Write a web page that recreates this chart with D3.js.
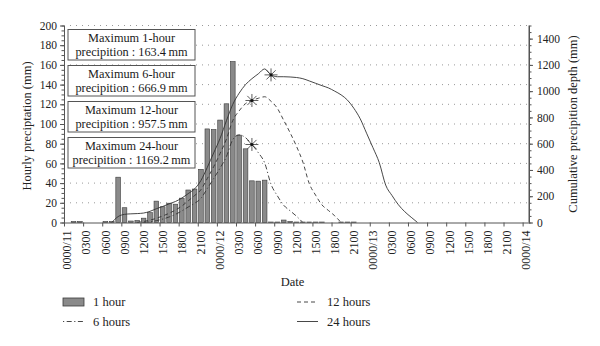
<!DOCTYPE html>
<html>
<head>
<meta charset="utf-8">
<script src="https://cdn.jsdelivr.net/npm/d3@7"></script>
<style>
  html, body { margin: 0; padding: 0; background: #fff; }
  svg { display: block; font-family: "Liberation Serif", "DejaVu Serif", serif; }
</style>
</head>
<body>
<svg id="chart" width="600" height="346"></svg>
<script>
// ---------------- DATA ----------------
const categories = [
  "0000/11","0100/11","0200/11","0300/11","0400/11","0500/11","0600/11","0700/11","0800/11","0900/11","1000/11","1100/11",
  "1200/11","1300/11","1400/11","1500/11","1600/11","1700/11","1800/11","1900/11","2000/11","2100/11","2200/11","2300/11",
  "0000/12","0100/12","0200/12","0300/12","0400/12","0500/12","0600/12","0700/12","0800/12","0900/12","1000/12","1100/12",
  "1200/12","1300/12","1400/12","1500/12","1600/12","1700/12","1800/12","1900/12","2000/12","2100/12","2200/12","2300/12",
  "0000/13","0100/13","0200/13","0300/13","0400/13","0500/13","0600/13","0700/13","0800/13","0900/13","1000/13","1100/13",
  "1200/13","1300/13","1400/13","1500/13","1600/13","1700/13","1800/13","1900/13","2000/13","2100/13","2200/13","2300/13",
  "0000/14"
];

const tickLabels = ["0000/11","0300","0600","0900","1200","1500","1800","2100",
  "0000/12","0300","0600","0900","1200","1500","1800","2100",
  "0000/13","0300","0600","0900","1200","1500","1800","2100","0000/14"];

// 1-hour precipitation (mm), left axis
const hourly = [
  0, 1, 1, 0, 0, 0, 1, 1, 46, 15, 1.5, 2,
  4.4, 10, 21.7, 16, 19.6, 18.6, 24.7, 33, 34, 54, 95, 94.4,
  104, 120.5, 163.4, 88.7, 74.8, 42.3, 42, 43, 0.5, 0.5, 2.5, 1,
  0.5, 0.5, 0.5, 0.5, 0.5, 0, 0, 0.5, 0.5, 0.5, 0, 0,
  0, 0, 0, 0, 0, 0, 0, 0, 0, 0, 0, 0,
  0, 0, 0, 0, 0, 0, 0, 0, 0, 0, 0, 0,
  0
];

// Cumulative depth (mm), right axis
const sixHours = [
  null, null, null, null, null, null, null, null, null, null, null, null,
  0, 5, 14, 26, 42, 62, 88, 118, 146, 184, 259, 335,
  414, 502, 631, 666.9, 646, 594, 532, 454, 291, 203, 131, 89,
  48, 0, null, null, null, null, null, null, null, null, null, null,
  null, null, null, null, null, null, null, null, null, null, null, null,
  null, null, null, null, null, null, null, null, null, null, null, null,
  null
];
const twelveHours = [
  null, null, null, null, null, null, null, null, null, null, null, 0,
  8, 18, 32, 50, 70, 95, 125, 165, 205, 250, 335, 425,
  525, 635, 777, 850, 905, 929, 946, 957.5, 923, 869, 777, 683,
  580, 460, 297, 208, 134, 92, 51, 0, null, null, null, null,
  null, null, null, null, null, null, null, null, null, null, null, null,
  null, null, null, null, null, null, null, null, null, null, null, null,
  null
];
const twentyFourHours = [
  null, null, null, null, null, null, null, 0, 45, 62, 66, 68,
  72, 85, 105, 122, 142, 160, 186, 220, 256, 320, 420, 530,
  640, 775, 900, 985, 1050, 1095, 1132, 1169.2, 1124, 1110, 1110, 1108,
  1104, 1095, 1078, 1060, 1042, 1025, 1000, 972, 932, 870, 790, 680,
  570, 455, 285, 205, 135, 82, 40, 0, null, null, null, null,
  null, null, null, null, null, null, null, null, null, null, null, null,
  null
];

// category index carrying the asterisk marker of each line
const markerIndex = { six: 29, twelve: 29, twentyFour: 32 };

const boxLines = [
  ["Maximum 1-hour", "precipition : 163.4\u2009mm"],
  ["Maximum 6-hour", "precipition : 666.9\u2009mm"],
  ["Maximum 12-hour", "precipition : 957.5\u2009mm"],
  ["Maximum 24-hour", "precipition : 1169.2\u2009mm"]
];

const leftTicks = [0, 20, 40, 60, 80, 100, 120, 140, 160, 180, 200];
const rightTicks = [0, 200, 400, 600, 800, 1000, 1200, 1400];

// ---------------- LAYOUT ----------------
const svg = d3.select("#chart");
const X0 = 64, X1 = 529, Y0 = 222.5, Y1 = 25.5;
const ink = "#333";
const axisCol = "#555";
const textCol = "#222";

const x = d3.scaleBand().domain(categories).range([X0, X1]).paddingInner(0.27).paddingOuter(0.135);
const xIdx = d3.scaleLinear().domain([0, categories.length]).range([X0, X1]);
const yL = d3.scaleLinear().domain([0, 200]).range([Y0, Y1]);
const yR = d3.scaleLinear().domain([0, 1500]).range([Y0, Y1]);
const cx = i => x(categories[i]) + x.bandwidth() / 2;

// gridlines (dotted)
svg.append("g")
  .selectAll("line")
  .data(leftTicks.filter(v => v > 0))
  .join("line")
  .attr("x1", X0).attr("x2", X1)
  .attr("y1", d => yL(d)).attr("y2", d => yL(d))
  .attr("stroke", "#999").attr("stroke-width", 1)
  .attr("stroke-dasharray", "1,5");

// bars
svg.append("g")
  .selectAll("rect")
  .data(hourly.map((v, i) => ({ v, i })).filter(d => d.v > 0))
  .join("rect")
  .attr("x", d => x(categories[d.i]))
  .attr("width", x.bandwidth())
  .attr("y", d => yL(d.v))
  .attr("height", d => Y0 - yL(d.v))
  .attr("fill", "#8a8a8a")
  .attr("stroke", "#3a3a3a")
  .attr("stroke-width", 0.6);

// lines
const lineGen = d3.line()
  .defined(d => d.v != null)
  .x(d => cx(d.i))
  .y(d => yR(d.v))
  .curve(d3.curveMonotoneX);

const series = [
  { key: "six", data: sixHours, dash: "5,2.5,1.2,2.5" },
  { key: "twelve", data: twelveHours, dash: "4,3" },
  { key: "twentyFour", data: twentyFourHours, dash: null }
];

series.forEach(s => {
  const pts = s.data.map((v, i) => ({ v, i }));
  svg.append("path")
    .datum(pts)
    .attr("d", lineGen)
    .attr("fill", "none")
    .attr("stroke", ink)
    .attr("stroke-width", 0.9)
    .attr("stroke-dasharray", s.dash);
});

// asterisk markers
function asterisk(g, px, py, r) {
  [0, 45, 90, 135].forEach(a => {
    const rad = a * Math.PI / 180;
    g.append("line")
      .attr("x1", px - r * Math.cos(rad)).attr("y1", py - r * Math.sin(rad))
      .attr("x2", px + r * Math.cos(rad)).attr("y2", py + r * Math.sin(rad))
      .attr("stroke", ink).attr("stroke-width", 0.8);
  });
  g.append("circle").attr("cx", px).attr("cy", py).attr("r", 1.6).attr("fill", "#111");
}
const mg = svg.append("g");
series.forEach(s => {
  const i = markerIndex[s.key];
  asterisk(mg, cx(i), yR(s.data[i]), 6.5);
});

// ---------------- AXES ----------------
function styleAxis(g) {
  g.select(".domain").attr("stroke", axisCol).attr("stroke-width", 1);
  g.selectAll(".tick line").attr("stroke", axisCol);
  g.selectAll("text").attr("fill", textCol).attr("font-family", "Liberation Serif").attr("font-size", 11.5);
}

// left axis: minor then major
svg.append("g").attr("transform", `translate(${X0},0)`)
  .call(d3.axisLeft(yL).tickValues(d3.range(0, 201, 5)).tickSize(2.5).tickFormat(""))
  .call(g => { g.select(".domain").remove(); g.selectAll(".tick line").attr("stroke", axisCol); });
svg.append("g").attr("transform", `translate(${X0},0)`)
  .call(d3.axisLeft(yL).tickValues(leftTicks).tickSize(4).tickSizeOuter(0).tickPadding(3).tickFormat(d3.format("d")))
  .call(styleAxis);

// right axis
svg.append("g").attr("transform", `translate(${X1},0)`)
  .call(d3.axisRight(yR).tickValues(d3.range(0, 1501, 50)).tickSize(2.5).tickFormat(""))
  .call(g => { g.select(".domain").remove(); g.selectAll(".tick line").attr("stroke", axisCol); });
svg.append("g").attr("transform", `translate(${X1},0)`)
  .call(d3.axisRight(yR).tickValues(rightTicks).tickSize(4).tickSizeOuter(0).tickPadding(4).tickFormat(d3.format("d")))
  .call(styleAxis);
// extend right axis line to top
svg.append("line").attr("x1", X1).attr("x2", X1).attr("y1", yR(1500)).attr("y2", Y0)
  .attr("stroke", axisCol);

// bottom axis: ticks on category boundaries
svg.append("g").attr("transform", `translate(0,${Y0})`)
  .call(d3.axisBottom(xIdx).tickValues(d3.range(0, 73, 3)).tickSize(4).tickSizeOuter(0).tickFormat(""))
  .call(styleAxis);
// labels at category centres
const labelCats = categories.filter((c, i) => i % 3 === 0);
svg.append("g").attr("transform", `translate(0,${Y0})`)
  .call(d3.axisBottom(x).tickValues(labelCats).tickSize(0)
        .tickFormat((d, i) => tickLabels[i]))
  .call(g => {
    g.select(".domain").remove();
    g.selectAll("text")
      .attr("transform", "rotate(-90)")
      .attr("text-anchor", "end")
      .attr("x", -8).attr("y", 0).attr("dy", "0.35em")
      .attr("fill", textCol).attr("font-family", "Liberation Serif").attr("font-size", 12);
  });

// axis titles
svg.append("text")
  .attr("transform", `translate(31,${(Y0 + Y1) / 2 + 2}) rotate(-90)`)
  .attr("text-anchor", "middle").attr("font-size", 12.5).attr("fill", textCol)
  .text("Hourly preciptation (mm)");
svg.append("text")
  .attr("transform", `translate(577,${(Y0 + Y1) / 2}) rotate(-90)`)
  .attr("text-anchor", "middle").attr("font-size", 12.5).attr("fill", textCol)
  .text("Cumulative precipition depth (mm)");
svg.append("text")
  .attr("x", (X0 + X1) / 2 - 4).attr("y", 286)
  .attr("text-anchor", "middle").attr("font-size", 12.5).attr("fill", textCol)
  .text("Date");

// annotation boxes
const boxTops = [29.5, 65.5, 101.5, 137.5];
const bx0 = 68, bw = 127, bh = 30.5;
boxLines.forEach((lines, k) => {
  const g = svg.append("g");
  g.append("rect").attr("x", bx0).attr("y", boxTops[k]).attr("width", bw).attr("height", bh)
    .attr("fill", "#fff").attr("stroke", "#555").attr("stroke-width", 1);
  lines.forEach((t, j) => {
    g.append("text").attr("x", bx0 + bw / 2).attr("y", boxTops[k] + 12.5 + j * 14.3)
      .attr("text-anchor", "middle").attr("font-size", 12.3).attr("fill", "#1a1a1a").text(t);
  });
});

// legend
const legendItems = [
  { label: "1 hour", type: "bar", lx: 63, ly: 302 },
  { label: "6 hours", type: "line", dash: "1.2,2.5,5,2.5", lx: 63, ly: 321.5 },
  { label: "12 hours", type: "line", dash: "4,3", lx: 297, ly: 302 },
  { label: "24 hours", type: "line", dash: null, lx: 297, ly: 321.5 }
];
const lg = svg.append("g");
legendItems.forEach(it => {
  if (it.type === "bar") {
    lg.append("rect").attr("x", it.lx).attr("y", it.ly - 4).attr("width", 21).attr("height", 8)
      .attr("fill", "#8a8a8a").attr("stroke", "#3a3a3a").attr("stroke-width", 0.8);
  } else {
    lg.append("line").attr("x1", it.lx).attr("x2", it.lx + 21).attr("y1", it.ly).attr("y2", it.ly)
      .attr("stroke", ink).attr("stroke-width", 0.9).attr("stroke-dasharray", it.dash);
  }
  lg.append("text").attr("x", it.lx + 30).attr("y", it.ly + 4)
    .attr("font-size", 12.5).attr("fill", textCol).text(it.label);
});
</script>
</body>
</html>
